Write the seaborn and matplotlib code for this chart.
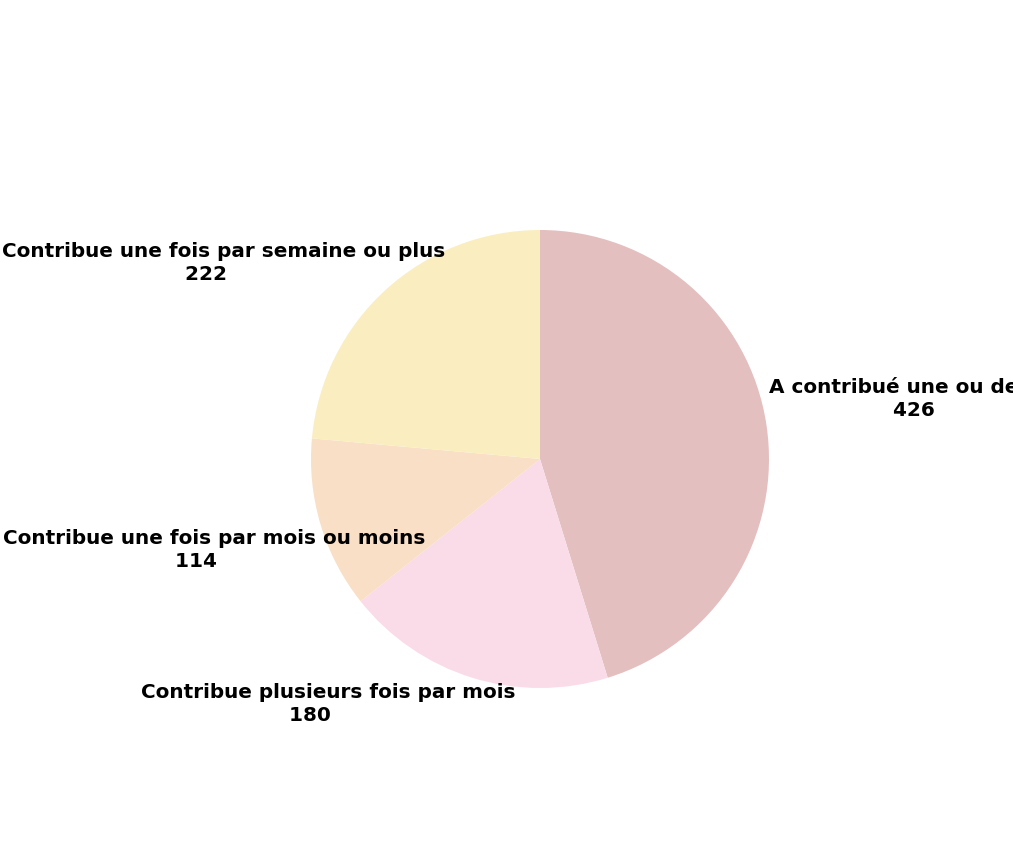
import matplotlib
matplotlib.use("Agg")
import matplotlib.pyplot as plt
import seaborn as sns

categories = [
    "A contribué une ou deux fois",
    "Contribue plusieurs fois par mois",
    "Contribue une fois par mois ou moins",
    "Contribue une fois par semaine ou plus",
]
values = [426, 180, 114, 222]
colors = ["#E4BFBF", "#F9DCE8", "#F9DFC6", "#FAEEC0"]

# label anchor layout (data units, pie radius = 1)
label_pos = [(1.0, 0.262), (-0.109, -1.070), (-0.502, -0.397), (-0.415, 0.856)]
label_ha = ["left", "right", "right", "right"]
num_pad = " " * 5

sns.set_theme(style="white")
plt.rcParams["font.family"] = ["DejaVu Sans"]

fig = plt.figure(figsize=(10.13, 8.60), dpi=100)
ax = fig.add_axes([0, 0, 1, 1])
wedges, _ = ax.pie(values, colors=colors, startangle=90, counterclock=False,
                   radius=1.0, center=(0, 0), wedgeprops=dict(linewidth=0))
for cat, val, pos, ha in zip(categories, values, label_pos, label_ha):
    ax.text(pos[0], pos[1], f"{cat}\n{val}{num_pad}", ha=ha, va="center",
            multialignment="center", fontsize=14.4, fontweight="bold",
            linespacing=1.3, color="black", clip_on=False)
ax.set_xlim(-540 / 229, (1013 - 540) / 229)
ax.set_ylim(-(860 - 459) / 229, 459 / 229)
ax.set_aspect("equal")
ax.axis("off")
fig.savefig("out.png", dpi=100)
